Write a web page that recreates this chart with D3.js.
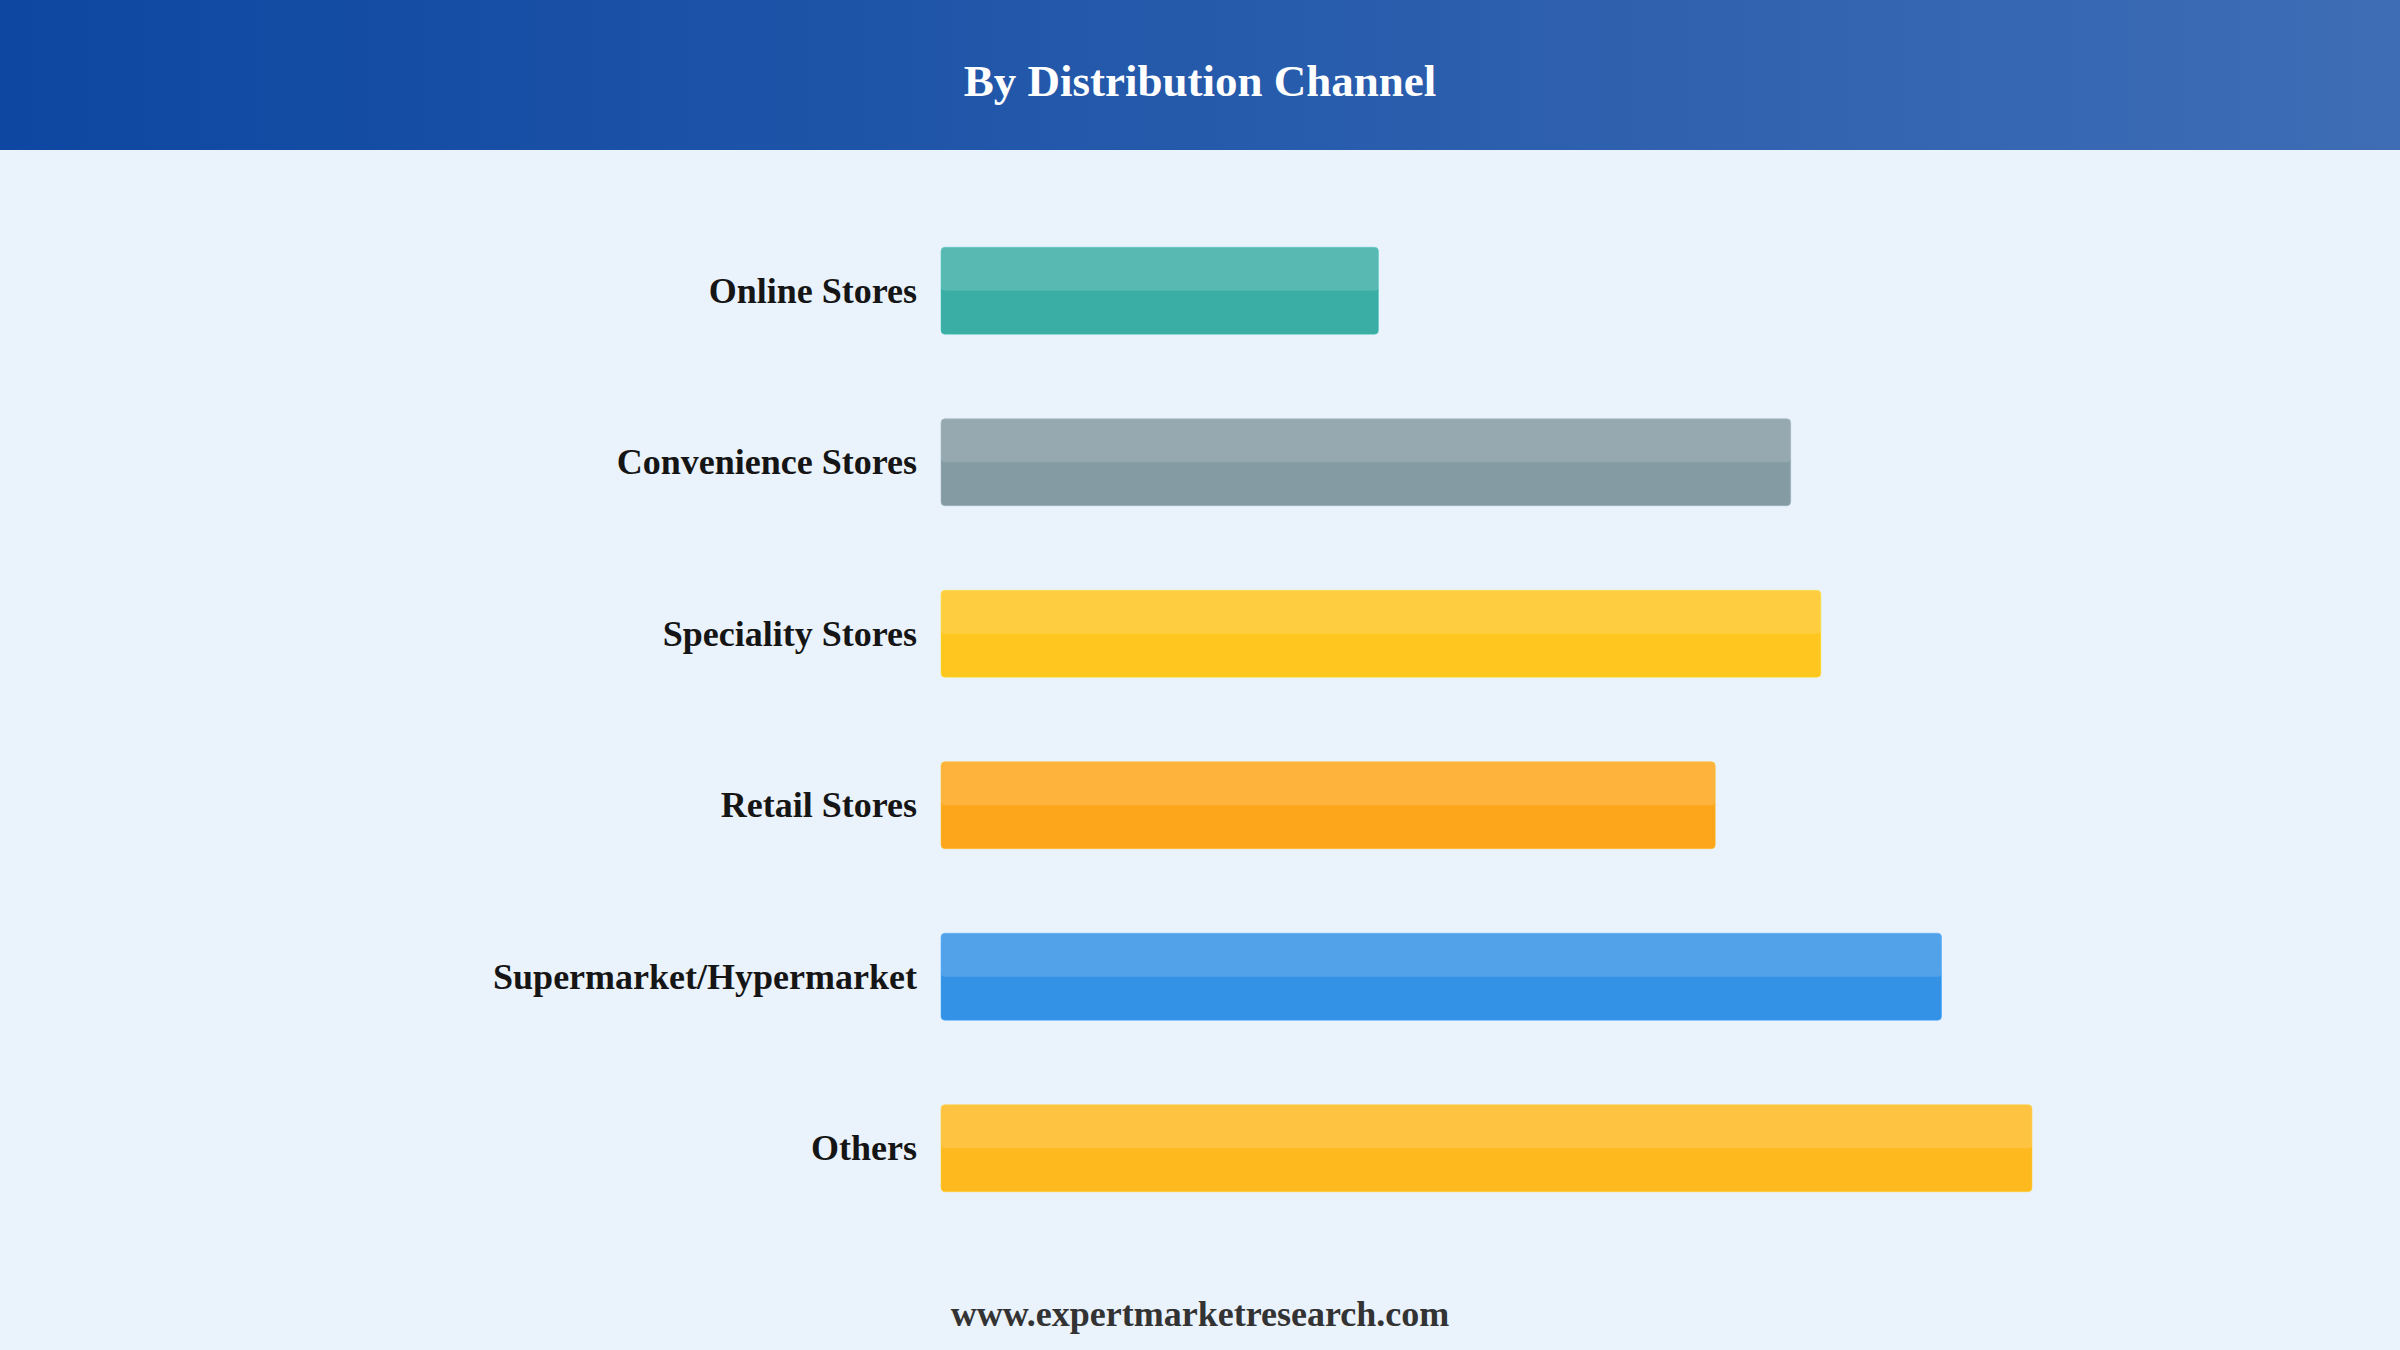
<!DOCTYPE html>
<html>
<head>
<meta charset="utf-8">
<script src="https://cdn.jsdelivr.net/npm/d3@7"></script>
<style>
    html, body { margin: 0; padding: 0; background: #eaf2fc; }
    svg { display: block; }
</style>
</head>
<body>
<div id="chart"></div>
<script>
// data (share, %)
var channels = ["Online Stores", "Convenience Stores", "Speciality Stores",
    "Retail Stores", "Supermarket/Hypermarket", "Others"];
var shares = [8.7, 16.9, 17.5, 15.4, 19.9, 21.7];
var barColors = ["#3aada5", "#849ba4", "#fec61f", "#fda61b", "#3492e6", "#feb91f"];

var data = channels.map(function (c, i) {
    return { group: c, value: shares[i], color: barColors[i] };
});

// set the dimensions and margins of the graph
var W = 2400, H = 1350;
var margin = { top: 205, right: 260, bottom: 115, left: 941 };

var svg = d3.select("#chart")
    .append("svg")
    .attr("width", W)
    .attr("height", H);

// header gradient
var defs = svg.append("defs");
var grad = defs.append("linearGradient")
    .attr("id", "headGrad")
    .attr("x1", "0%").attr("x2", "100%")
    .attr("y1", "0%").attr("y2", "0%");
grad.append("stop").attr("offset", "0%").attr("stop-color", "#0d47a1");
grad.append("stop").attr("offset", "100%").attr("stop-color", "#3e6db5");

svg.append("rect")
    .attr("width", W)
    .attr("height", H)
    .attr("fill", "#eaf2fc");

svg.append("rect")
    .attr("width", W)
    .attr("height", 150)
    .attr("fill", "url(#headGrad)");

svg.append("text")
    .attr("x", W / 2)
    .attr("y", 96)
    .attr("text-anchor", "middle")
    .style("font-family", "'Liberation Serif', 'Times New Roman', serif")
    .style("font-weight", "bold")
    .style("font-size", "45px")
    .style("fill", "#ffffff")
    .text("By Distribution Channel");

// scales
var x = d3.scaleLinear()
    .domain([0, 21.7])
    .range([margin.left, margin.left + 1091]);

var y = d3.scaleBand()
    .domain(channels)
    .range([margin.top, margin.top + 6 * 171.5])
    .paddingInner(0.493)
    .paddingOuter(0.2465);

// Y labels
svg.append("g")
    .selectAll("text")
    .data(data)
    .enter()
    .append("text")
    .attr("x", margin.left - 24)
    .attr("y", function (d) { return y(d.group) + y.bandwidth() / 2 + 12; })
    .attr("text-anchor", "end")
    .style("font-family", "'Liberation Serif', 'Times New Roman', serif")
    .style("font-weight", "bold")
    .style("font-size", "36px")
    .style("fill", "#151515")
    .text(function (d) { return d.group; });

// bars
var bars = svg.append("g")
    .selectAll("g")
    .data(data)
    .enter()
    .append("g");

bars.append("rect")
    .attr("x", x(0))
    .attr("y", function (d) { return y(d.group); })
    .attr("width", function (d) { return x(d.value) - x(0); })
    .attr("height", y.bandwidth())
    .attr("rx", 4)
    .attr("fill", function (d) { return d.color; })
    .attr("stroke", function (d) { return d3.color(d.color).brighter(0.4); })
    .attr("stroke-opacity", 0.5)
    .attr("stroke-width", 1);

// lighter top half
bars.append("rect")
    .attr("x", x(0))
    .attr("y", function (d) { return y(d.group); })
    .attr("width", function (d) { return x(d.value) - x(0); })
    .attr("height", y.bandwidth() / 2)
    .attr("rx", 4)
    .attr("fill", "#ffffff")
    .attr("fill-opacity", 0.15);

// footer
svg.append("text")
    .attr("x", W / 2)
    .attr("y", 1326)
    .attr("text-anchor", "middle")
    .style("font-family", "'Liberation Serif', 'Times New Roman', serif")
    .style("font-weight", "bold")
    .style("font-size", "36px")
    .style("fill", "#333333")
    .text("www.expertmarketresearch.com");
</script>
</body>
</html>
